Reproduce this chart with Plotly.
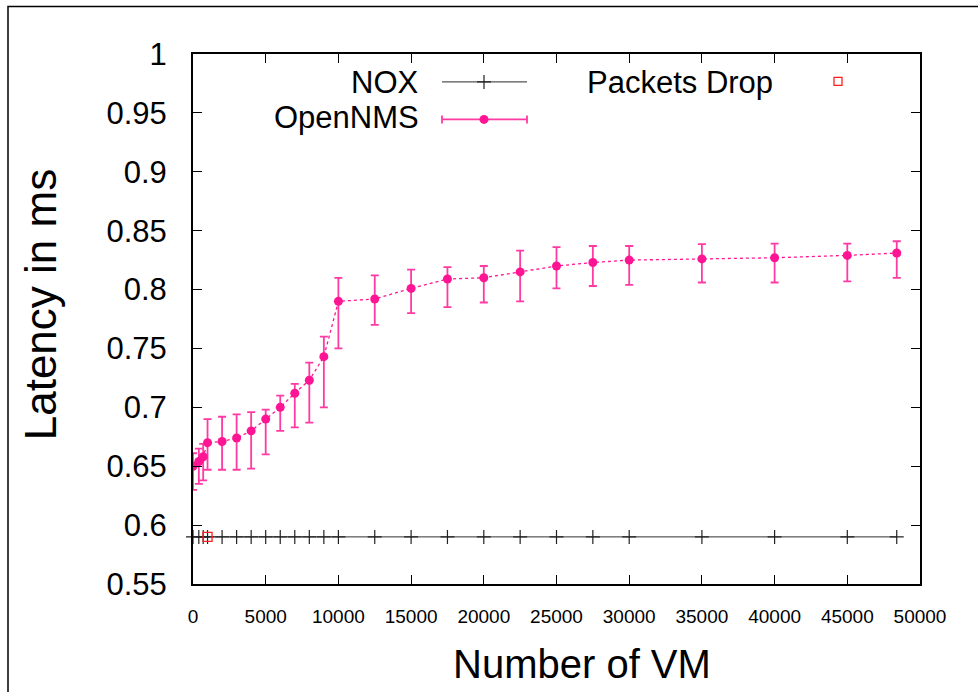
import plotly.graph_objects as go

# ---- data ----
vm = [0, 400, 700, 1000, 2000, 3000, 4000, 5000, 6000, 7000, 8000, 9000, 10000,
      12500, 15000, 17500, 20000, 22500, 25000, 27500, 30000, 35000, 40000, 45000, 48400]
opennms = [0.650, 0.654, 0.658, 0.670, 0.671, 0.674, 0.680, 0.690, 0.700, 0.712, 0.723, 0.743, 0.790,
           0.792, 0.801, 0.809, 0.810, 0.815, 0.820, 0.823, 0.825, 0.826, 0.827, 0.829, 0.831]
opennms_hi = [0.661, 0.665, 0.669, 0.690, 0.692, 0.694, 0.696, 0.698, 0.710, 0.720, 0.738, 0.760, 0.810,
              0.812, 0.817, 0.819, 0.820, 0.833, 0.836, 0.837, 0.837, 0.8385, 0.839, 0.839, 0.841]
opennms_lo = [0.630, 0.635, 0.638, 0.647, 0.647, 0.647, 0.648, 0.660, 0.680, 0.683, 0.687, 0.700, 0.750,
              0.770, 0.780, 0.785, 0.789, 0.790, 0.801, 0.803, 0.804, 0.806, 0.806, 0.807, 0.810]
nox = [0.59] * len(vm)
drop_x = [1000]
drop_y = [0.59]

x_ticks = [0, 5000, 10000, 15000, 20000, 25000, 30000, 35000, 40000, 45000, 50000]
y_ticks = [0.55, 0.6, 0.65, 0.7, 0.75, 0.8, 0.85, 0.9, 0.95, 1]
y_ticklabels = ["0.55", "0.6", "0.65", "0.7", "0.75", "0.8", "0.85", "0.9", "0.95", "1"]

PINK = "#ff1493"
PINK_BAR = "#ff3aa3"
FONT = "Liberation Sans, Arial, sans-serif"

# plot area in pixels
L, R, T, B = 193, 920, 53.5, 584
W, H = 978, 692


def px(xp):
    return (xp - L) / (R - L)


def py(yp):
    return (B - yp) / (B - T)


fig = go.Figure()

fig.add_trace(go.Scatter(
    x=vm, y=nox, mode="lines+markers",
    line=dict(color="#333333", width=1),
    marker=dict(symbol="cross-thin", size=10, line=dict(color="#222222", width=1.2)),
    showlegend=False, cliponaxis=False))

fig.add_trace(go.Scatter(
    x=vm, y=opennms, mode="lines+markers",
    line=dict(color=PINK, width=1.3, dash="3px,3px"),
    marker=dict(symbol="circle", size=9, color=PINK),
    error_y=dict(type="data", symmetric=False,
                 array=[h - v for h, v in zip(opennms_hi, opennms)],
                 arrayminus=[v - l for v, l in zip(opennms, opennms_lo)],
                 color=PINK_BAR, thickness=1.8, width=4),
    showlegend=False))

fig.add_trace(go.Scatter(
    x=drop_x, y=drop_y, mode="markers",
    marker=dict(symbol="square-open", size=9, color="#ff2020", line=dict(width=1.3)),
    showlegend=False, cliponaxis=False))

# ---- legend samples (overlay axes in plot fraction units) ----
lx0, lx1, lxm = px(442), px(527), px(484)
fig.add_trace(go.Scatter(
    x=[lx0, lx1], y=[py(81.5), py(81.5)], mode="lines",
    line=dict(color="#555555", width=1.2), xaxis="x2", yaxis="y2", showlegend=False))
fig.add_trace(go.Scatter(
    x=[lxm], y=[py(81.5)], mode="markers",
    marker=dict(symbol="cross-thin", size=10, line=dict(color="#222222", width=1.2)),
    xaxis="x2", yaxis="y2", showlegend=False))
fig.add_trace(go.Scatter(
    x=[lx0, lx1], y=[py(119), py(119)], mode="lines",
    line=dict(color=PINK_BAR, width=1.8), xaxis="x2", yaxis="y2", showlegend=False))
fig.add_trace(go.Scatter(
    x=[lx0, lx0, None, lx1, lx1], y=[py(115), py(123), None, py(115), py(123)], mode="lines",
    line=dict(color=PINK_BAR, width=1.8), xaxis="x2", yaxis="y2", showlegend=False))
fig.add_trace(go.Scatter(
    x=[lxm], y=[py(119)], mode="markers",
    marker=dict(symbol="circle", size=9, color=PINK),
    xaxis="x2", yaxis="y2", showlegend=False))
fig.add_trace(go.Scatter(
    x=[px(838)], y=[py(81)], mode="markers",
    marker=dict(symbol="square-open", size=8, color="#ff2020", line=dict(width=1.3)),
    xaxis="x2", yaxis="y2", showlegend=False))

annotations = [
    dict(text="NOX", x=px(421), y=py(82), xanchor="right", yanchor="middle"),
    dict(text="OpenNMS", x=px(421), y=py(117), xanchor="right", yanchor="middle"),
    dict(text="Packets Drop", x=px(585), y=py(82), xanchor="left", yanchor="middle"),
]
for a in annotations:
    a.update(xref="paper", yref="paper", showarrow=False,
             font=dict(family=FONT, size=31, color="#000000"))

annotations.append(dict(text="Number of VM", x=px(582), y=py(664), xref="paper", yref="paper",
                        xanchor="center", yanchor="middle", showarrow=False,
                        font=dict(family=FONT, size=40, color="#000000")))
annotations.append(dict(text="Latency in ms", x=px(40), y=py(305), xref="paper", yref="paper",
                        xanchor="center", yanchor="middle", showarrow=False, textangle=-90,
                        font=dict(family=FONT, size=44, color="#000000")))

shapes = [dict(type="rect", xref="paper", yref="paper",
               x0=px(8), x1=px(1200), y0=py(900), y1=py(6),
               line=dict(color="#000000", width=1.5), fillcolor="rgba(0,0,0,0)", layer="below")]

fig.update_layout(
    width=W, height=H,
    margin=dict(l=L, r=W - R, t=T, b=H - B, pad=0),
    plot_bgcolor="white", paper_bgcolor="white",
    font=dict(family=FONT, color="#000000"),
    annotations=annotations, shapes=shapes,
    xaxis=dict(range=[0, 50000], tickvals=x_ticks, ticktext=[str(v) for v in x_ticks],
               ticks="inside", ticklen=9, tickwidth=1.2, tickcolor="#000000",
               showline=True, linecolor="#000000", linewidth=2, mirror="allticks",
               showgrid=False, zeroline=False, tickfont=dict(size=19),
               ticklabelstandoff=14),
    yaxis=dict(range=[0.55, 1], tickvals=y_ticks, ticktext=y_ticklabels,
               ticks="inside", ticklen=9, tickwidth=1.2, tickcolor="#000000",
               showline=True, linecolor="#000000", linewidth=2, mirror="allticks",
               showgrid=False, zeroline=False, tickfont=dict(size=31),
               ticklabelstandoff=18),
    xaxis2=dict(range=[0, 1], overlaying="x", visible=False, fixedrange=True),
    yaxis2=dict(range=[0, 1], overlaying="y", visible=False, fixedrange=True),
)

fig.write_html("out.html")
